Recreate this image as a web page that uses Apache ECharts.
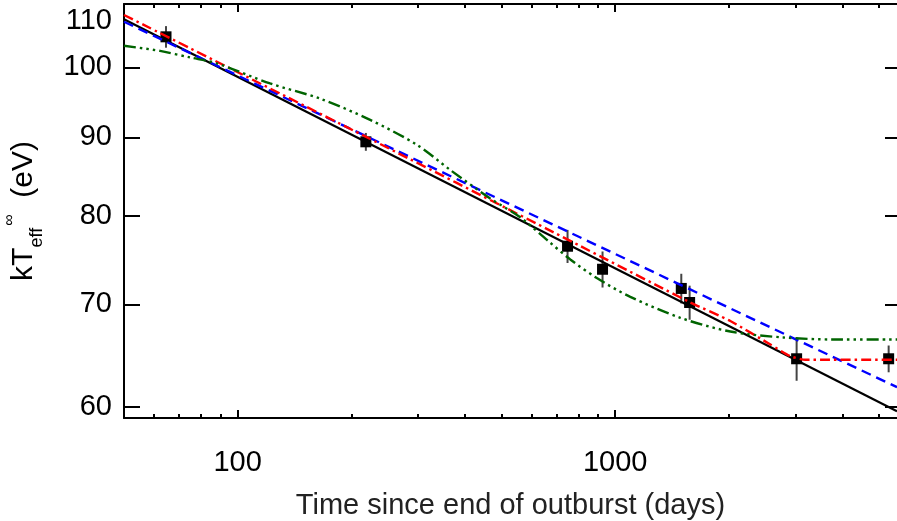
<!DOCTYPE html>
<html>
<head>
<meta charset="utf-8">
<script src="https://cdn.jsdelivr.net/npm/echarts@6/dist/echarts.min.js"></script>
<style>
  html, body { margin: 0; padding: 0; background: #fff; }
  #chart { width: 897px; height: 521px; }
</style>
</head>
<body>
<div id="chart"></div>
<script>
// observed temperatures (days since end of outburst, kT in eV, 1-sigma error)
const obsDays = [64.6, 218.6, 748, 926, 1497, 1575, 3025, 5303];
const obsTemp = [104.7, 89.4, 76.4, 73.8, 71.7, 70.2, 64.5, 64.5];
const obsErr = [1.7, 1.2, 1.9, 2.0, 1.6, 1.8, 2.1, 1.3];

// power law fit (black, solid)
const blackDays = [50, 5580];
const blackTemp = [107.5, 59.6];

// power law fit (blue, dashed)
const blueDays = [50, 5580];
const blueTemp = [107.1, 61.8];

// broken power law / constant (red, dash-dot)
const redDays = [50, 219, 661, 1573, 2019, 2578, 2912, 3190, 5580];
const redTemp = [108.2, 90.06, 78.4, 70.25, 68.27, 65.9, 64.75, 64.4, 64.4];

// cooling model (green, dash-dot-dot-dot)
const greenDays = [50, 62.3, 74.8, 88.0, 121.9, 165.4, 224.4, 298.4, 365.6, 466.7, 560.5, 661, 760.5, 896.5, 1097, 1488, 2019, 2790, 3785, 5580];
const greenTemp = [103.3, 102.5, 101.5, 100.6, 97.6, 95.4, 92.4, 89.0, 85.7, 82.1, 79.8, 77.1, 74.9, 72.8, 70.8, 68.6, 67.2, 66.6, 66.4, 66.4];

// axes
const xMin = 50, xMax = 5580;
const yMin = 59, yMax = 110;
const xMajorTicks = [100, 1000];
const xMinorTicks = [60, 70, 80, 90, 200, 300, 400, 500, 600, 700, 800, 900, 2000, 3000, 4000, 5000];
const yTicks = [60, 70, 80, 90, 100, 110];

const FONT = '"Liberation Sans", Arial, Helvetica, sans-serif';
const zip = (a, b) => a.map((v, i) => [v, b[i]]);

const chart = echarts.init(document.getElementById('chart'));

const tickLine = { color: '#000', width: 2 };
const xBase = { type: 'log', logBase: 10, min: xMin, max: xMax, splitLine: { show: false } };
const yBase = { type: 'log', logBase: 10, min: yMin, max: yMax, splitLine: { show: false } };

chart.setOption({
  animation: false,
  backgroundColor: '#fff',
  textStyle: { fontFamily: FONT },
  grid: { left: 124, top: 4, right: 0, bottom: 103, containLabel: false, outerBoundsMode: 'none' },
  xAxis: [
    {
      ...xBase,
      position: 'bottom',
      axisLine: { show: true, onZero: false, lineStyle: tickLine },
      axisTick: { show: true, inside: true, length: 8, lineStyle: tickLine, customValues: xMajorTicks },
      axisLabel: { customValues: xMajorTicks, margin: 30, fontSize: 29, color: '#000', fontFamily: FONT, formatter: v => String(v) },
      name: 'Time since end of outburst (days)',
      nameLocation: 'middle',
      nameGap: 73,
      nameTextStyle: { fontSize: 29, color: '#222', fontFamily: FONT }
    },
    {
      ...xBase,
      position: 'bottom',
      axisLine: { show: false, onZero: false },
      axisTick: { show: true, inside: true, length: 4, lineStyle: tickLine, customValues: xMinorTicks },
      axisLabel: { show: false }
    },
    {
      ...xBase,
      position: 'top',
      axisLine: { show: true, onZero: false, lineStyle: tickLine },
      axisTick: { show: true, inside: true, length: 8, lineStyle: tickLine, customValues: xMajorTicks },
      axisLabel: { show: false }
    },
    {
      ...xBase,
      position: 'top',
      axisLine: { show: false, onZero: false },
      axisTick: { show: true, inside: true, length: 4, lineStyle: tickLine, customValues: xMinorTicks },
      axisLabel: { show: false }
    }
  ],
  yAxis: [
    {
      ...yBase,
      position: 'left',
      axisLine: { show: true, onZero: false, lineStyle: tickLine },
      axisTick: { show: true, inside: true, length: 16, lineStyle: tickLine, customValues: yTicks },
      axisLabel: {
        customValues: yTicks, margin: 12, fontSize: 29, color: '#000', fontFamily: FONT,
        formatter: v => (v === 110 ? '{t|110}' : String(v)),
        rich: { t: { fontSize: 29, color: '#000', fontFamily: FONT, padding: [34, 0, 0, 0] } }
      },
      name: '{m|kT}{s|eff}{u|\u221e}{m|  (eV)}',
      nameLocation: 'middle',
      nameRotate: 90,
      nameGap: 78,
      nameTextStyle: {
        color: '#000',
        rich: {
          m: { fontSize: 30, lineHeight: 44, verticalAlign: 'middle', color: '#000', fontFamily: FONT },
          s: { fontSize: 18, lineHeight: 18, verticalAlign: 'bottom', color: '#000', fontFamily: FONT },
          u: { fontSize: 16, lineHeight: 16, verticalAlign: 'top', color: '#000', fontFamily: FONT, padding: [0, 0, 0, 2] }
        }
      }
    },
    {
      ...yBase,
      position: 'right',
      axisLine: { show: false, onZero: false },
      axisTick: { show: true, inside: true, length: 12, lineStyle: tickLine, customValues: yTicks },
      axisLabel: { show: false }
    }
  ],
  series: [
    {
      name: 'errors',
      type: 'custom',
      z: 1,
      data: obsDays.map((d, i) => [d, obsTemp[i] - obsErr[i], obsTemp[i] + obsErr[i]]),
      encode: { x: 0, y: [1, 2] },
      renderItem: (params, api) => {
        const lo = api.coord([api.value(0), api.value(1)]);
        const hi = api.coord([api.value(0), api.value(2)]);
        return {
          type: 'line',
          shape: { x1: lo[0], y1: lo[1], x2: hi[0], y2: hi[1] },
          style: { stroke: '#444', lineWidth: 2 }
        };
      }
    },
    {
      name: 'data',
      type: 'scatter',
      z: 2,
      symbol: 'rect',
      symbolSize: 11,
      itemStyle: { color: '#000', opacity: 1 },
      data: zip(obsDays, obsTemp)
    },
    {
      name: 'power law',
      type: 'line',
      z: 3,
      symbol: 'none',
      data: zip(blackDays, blackTemp),
      lineStyle: { color: '#000', width: 2.2 }
    },
    {
      name: 'blue',
      type: 'line',
      z: 4,
      symbol: 'none',
      data: zip(blueDays, blueTemp),
      lineStyle: { color: '#0000ff', width: 2.4, type: [10, 6] }
    },
    {
      name: 'red',
      type: 'line',
      z: 5,
      symbol: 'none',
      smooth: 0.2,
      data: zip(redDays, redTemp),
      lineStyle: { color: '#ff0000', width: 2.4, type: [10, 4, 2.5, 4] }
    },
    {
      name: 'green',
      type: 'line',
      z: 5,
      symbol: 'none',
      smooth: 0.3,
      data: zip(greenDays, greenTemp),
      lineStyle: { color: '#006400', width: 2.4, type: [12, 4, 2.5, 4, 2.5, 4, 2.5, 4] }
    }
  ]
});

window.addEventListener('resize', () => chart.resize());
</script>
</body>
</html>
